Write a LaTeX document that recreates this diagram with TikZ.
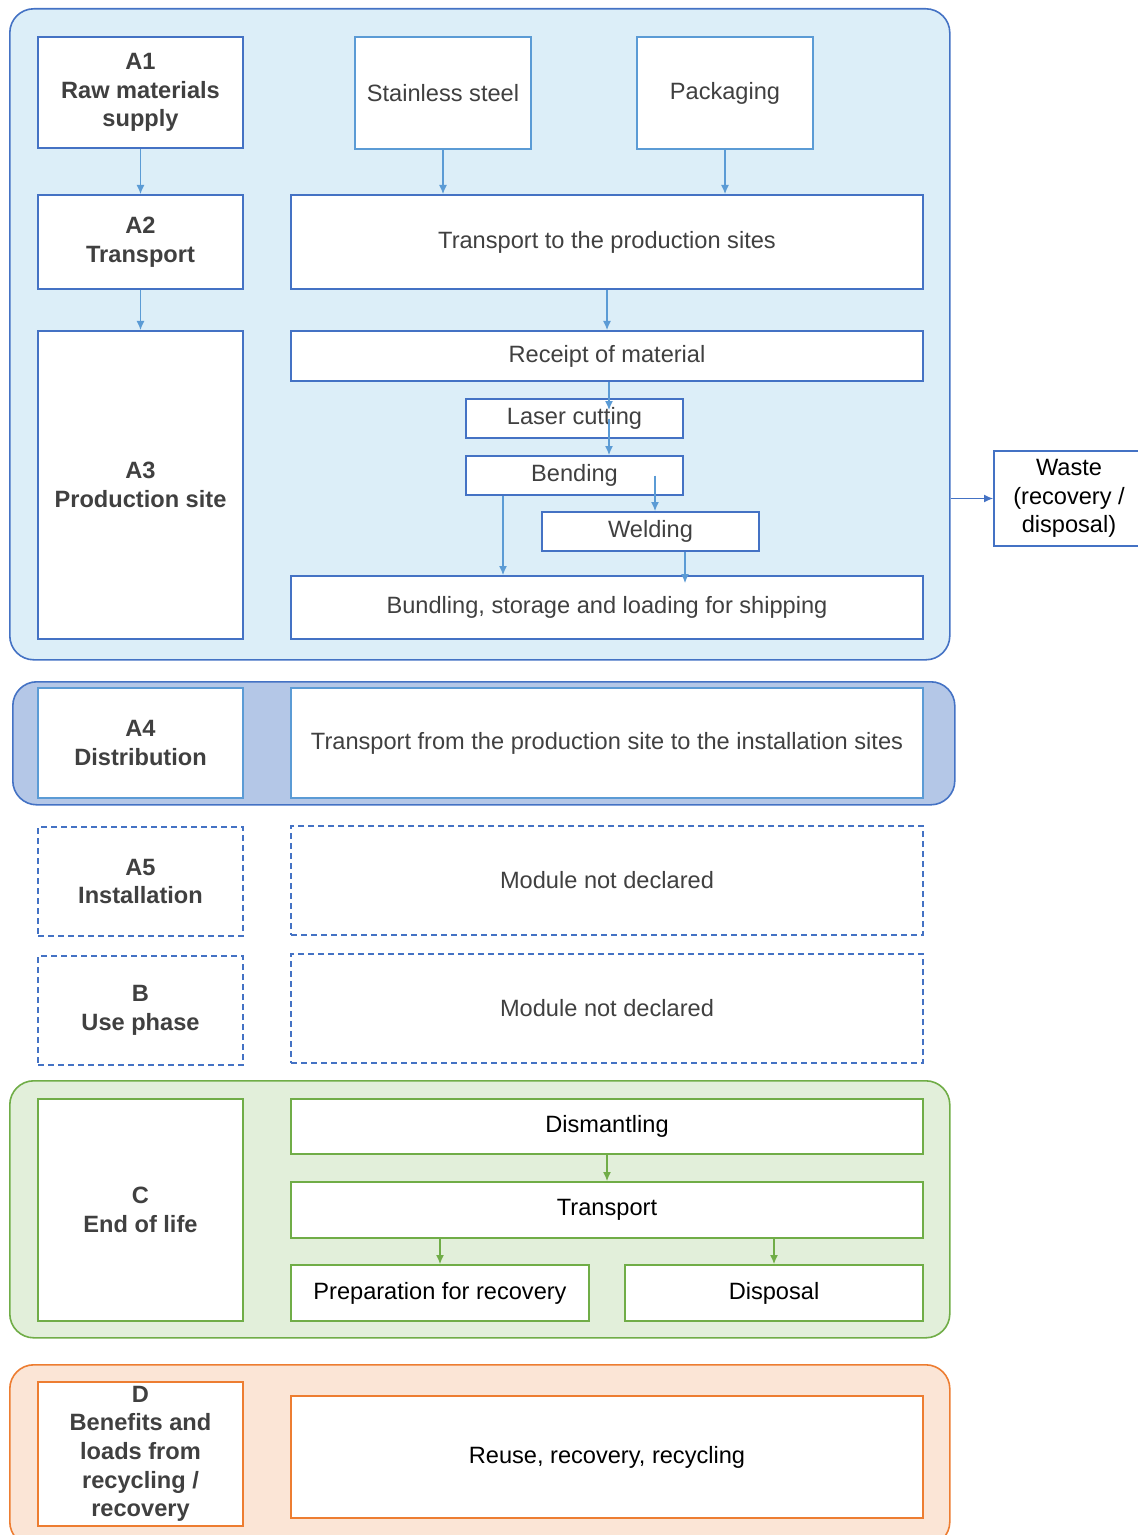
\documentclass[tikz,border=0pt]{standalone}
\usepackage{fontspec}
\setmainfont{Liberation Sans}
\usetikzlibrary{arrows.meta,positioning,calc}

\definecolor{blueline}{HTML}{4472C4}
\definecolor{bluearrow}{HTML}{5B9BD5}
\definecolor{bluefill}{HTML}{DCEEF8}
\definecolor{distfill}{HTML}{B4C7E7}
\definecolor{greenline}{HTML}{70AD47}
\definecolor{greenfill}{HTML}{E2EFDA}
\definecolor{orangeline}{HTML}{ED7D31}
\definecolor{orangefill}{HTML}{FBE5D6}
\definecolor{txtgray}{HTML}{404040}

\begin{document}
\begin{tikzpicture}[
  x=0.5pt, y=-0.5pt,
  font=\fontsize{11.8}{14.3}\selectfont,
  panel/.style={draw, line width=0.8pt, rounded corners=12pt, anchor=north west, inner sep=0pt},
  box/.style={draw, fill=white, line width=1pt, anchor=north west, align=center, inner sep=2pt, text=txtgray},
  modbox/.style={box, font=\fontsize{11.8}{14.3}\selectfont\bfseries},
  leftw/.style={minimum width=102.5pt},
  widew/.style={minimum width=316pt},
  stepw/.style={minimum width=108.5pt, minimum height=19.5pt},
  dashbox/.style={dash pattern=on 3pt off 2pt},
  arrb/.style={draw=bluearrow, line width=0.6pt, -{Latex[length=4.5pt,width=4pt]}},
  arrg/.style={arrb, draw=greenline}
]
\useasboundingbox (0,0) rectangle (1137,1535);

% ----- Background panels
\node[panel, fill=bluefill, draw=blueline, minimum width=470pt, minimum height=325.5pt] (pA) at (9,8) {};
\node[panel, fill=distfill, draw=blueline, minimum width=471pt, minimum height=61.5pt] (pA4) at (12,681) {};
\node[panel, fill=greenfill, draw=greenline, minimum width=470pt, minimum height=128.5pt] (pC) at (9,1080) {};
\node[panel, fill=orangefill, draw=orangeline, minimum width=470pt, minimum height=90.5pt] (pD) at (9,1364) {};

% ----- A1-A3 product stage
\node[modbox, draw=blueline, leftw, minimum height=55.5pt] (a1) at (37,36) {A1\\Raw materials\\supply};
\node[box, draw=bluearrow, minimum width=88pt, minimum height=56pt] (steel) at (354,36) {Stainless steel};
\node[box, draw=bluearrow, minimum width=88pt, minimum height=56pt] (pack) at (636,36) {Packaging};

\node[modbox, draw=blueline, leftw, minimum height=47pt] (a2) at (37,194) {A2\\Transport};
\node[box, draw=blueline, widew, minimum height=47pt] (transprod) at (290,194) {Transport to the production sites};

\node[modbox, draw=blueline, leftw, minimum height=154pt] (a3) at (37,330) {A3\\Production site};
\node[box, draw=blueline, widew, minimum height=25pt] (receipt) at (290,330) {Receipt of material};
\node[box, draw=blueline, stepw] (laser) at (465,398) {Laser cutting};
\node[box, draw=blueline, stepw] (bending) at (465,455) {Bending};
\node[box, draw=blueline, stepw] (welding) at (541,511) {Welding};
\node[box, draw=blueline, widew, minimum height=31.5pt] (bundle) at (290,575) {Bundling, storage and loading for shipping};

\node[box, draw=blueline, text=black, minimum width=75pt, minimum height=47.5pt] (waste) at (993,450) {Waste\\(recovery /\\disposal)};

% x positions of the process arrows
\coordinate (xcut) at (609,0);
\coordinate (xweld) at (655,0);
\coordinate (xbend) at (503,0);
\coordinate (xout) at (685,0);

\draw[arrb] (a1) -- (a2);
\draw[arrb] (a2) -- (a3);
\draw[arrb] (steel) -- (steel |- transprod.north);
\draw[arrb] (pack) -- (pack |- transprod.north);
\draw[arrb] (transprod) -- (receipt);
\draw[arrb, shorten >=-6pt] (receipt.south -| xcut) -- (laser.north -| xcut);
\draw[arrb] (laser.center -| xcut) -- (bending.north -| xcut);
\draw[arrb] (bending.center -| xweld) -- (welding.north -| xweld);
\draw[arrb] (bending.south -| xbend) -- (bundle.north -| xbend);
\draw[arrb, shorten >=-4pt] (welding.south -| xout) -- (bundle.north -| xout);
\draw[arrb, draw=blueline] (waste.west -| pA.east) -- (waste.west);

% ----- A4 distribution
\node[modbox, draw=bluearrow, leftw, minimum height=55pt] (a4) at (37,687) {A4\\Distribution};
\node[box, draw=bluearrow, widew, minimum height=55pt] (distr) at (290,687) {Transport from the production site to the installation sites};

% ----- A5 and B (not declared)
\node[modbox, draw=blueline, dashbox, leftw, minimum height=54.5pt] (a5) at (37,826) {A5\\Installation};
\node[box, draw=blueline, dashbox, widew, minimum height=54.5pt] (nda5) at (290,825) {Module not declared};
\node[modbox, draw=blueline, dashbox, leftw, minimum height=54.5pt] (usephase) at (37,955) {B\\Use phase};
\node[box, draw=blueline, dashbox, widew, minimum height=54.5pt] (ndb) at (290,953) {Module not declared};

% ----- C end of life
\node[modbox, draw=greenline, leftw, minimum height=111pt] (eol) at (37,1098) {C\\End of life};
\node[box, draw=greenline, text=black, widew, minimum height=27.5pt] (dismantle) at (290,1098) {Dismantling};
\node[box, draw=greenline, text=black, widew, minimum height=28pt] (transc) at (290,1181) {Transport};
\node[box, draw=greenline, text=black, minimum width=149pt, minimum height=28pt] (prep) at (290,1264) {Preparation for recovery};
\node[box, draw=greenline, text=black, minimum width=149pt, minimum height=28pt] (disposal) at (624,1264) {Disposal};

\draw[arrg] (dismantle) -- (transc);
\draw[arrg] (transc.south -| prep) -- (prep);
\draw[arrg] (transc.south -| disposal) -- (disposal);

% ----- D beyond the system boundary
\node[modbox, draw=orangeline, leftw, minimum height=71.5pt] (benefits) at (37,1381) {D\\Benefits and\\loads from\\recycling /\\recovery};
\node[box, draw=orangeline, text=black, widew, minimum height=61pt] (reuse) at (290,1395) {Reuse, recovery, recycling};

\end{tikzpicture}
\end{document}
